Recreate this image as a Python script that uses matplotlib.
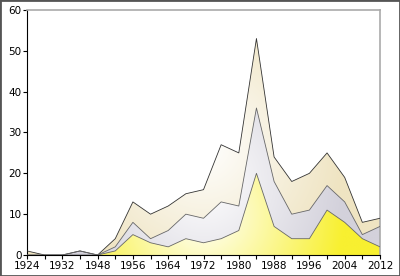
import numpy as np
import matplotlib
matplotlib.use("Agg")
import matplotlib.pyplot as plt
from matplotlib.colors import to_rgb

# Données : médailles par édition
annees = [1924, 1928, 1932, 1936, 1948, 1952, 1956, 1960, 1964, 1968, 1972,
          1976, 1980, 1984, 1988, 1992, 1996, 2000, 2004, 2008, 2012]
gold = [0, 0, 0, 0, 0, 1, 5, 3, 2, 4, 3, 4, 6, 20, 7, 4, 4, 11, 8, 4, 2]
silver = [0, 0, 0, 1, 0, 1, 3, 1, 4, 6, 6, 9, 6, 16, 11, 6, 7, 6, 5, 1, 5]
bronze = [1, 0, 0, 0, 0, 2, 5, 6, 6, 5, 7, 14, 13, 17, 6, 8, 9, 8, 6, 3, 2]

yticks = [0, 10, 20, 30, 40, 50, 60]

x = np.arange(len(annees))
g = np.array(gold)
gs_ = g + np.array(silver)
tot = gs_ + np.array(bronze)

fig = plt.figure(figsize=(4, 2.76), dpi=100)
ax = fig.add_axes([0.0675, 0.076, 0.8825, 0.888])
ax.set_xlim(0, len(annees) - 1)
ax.set_ylim(0, 60)

# pixels par unité (pour un dégradé radial circulaire)
kx = 353 / 20.0
ky = 245 / 60.0


def couche(bas, haut, couleur, lc, rel=0.4):
    poly = ax.fill_between(x, bas, haut, facecolor="none", edgecolor="none")
    path = poly.get_paths()[0]
    ext = path.get_extents()
    x0, y0, x1, y1 = ext.x0, ext.y0, ext.x1, ext.y1
    cx, cy = (x0 + x1) / 2, (y0 + y1) / 2
    R = rel * (x1 - x0) * kx
    nx, ny = 300, 200
    xx, yy = np.meshgrid(np.linspace(x0, x1, nx), np.linspace(y0, y1, ny))
    d = np.sqrt(((xx - cx) * kx) ** 2 + ((yy - cy) * ky) ** 2)
    t = np.clip(d / R, 0, 1)[..., None]
    c = np.array(to_rgb(couleur))
    img = (1 - t) * np.ones(3) + t * c
    im = ax.imshow(img, extent=[x0, x1, y0, y1], aspect="auto",
                   origin="lower", zorder=1, interpolation="bilinear")
    im.set_clip_path(path, transform=ax.transData)
    ax.plot(x, haut, color=lc, lw=0.6, zorder=3)


couche(gs_, tot, "#efe4c2", "#333333")
couche(g, gs_, "#d3d1db", "#666666")
couche(0 * g, g, "#f8f030", "#666666")

ax.set_xlim(0, len(annees) - 1)
ax.set_ylim(0, 60)
ax.set_yticks(yticks)
ax.set_xticks(x)
ax.set_xticklabels([str(a) if i % 2 == 0 else "" for i, a in enumerate(annees)])
ax.tick_params(labelsize=7.5, length=3, width=0.8, pad=1, colors="black")
for s in ["top", "right"]:
    ax.spines[s].set_color("#aaaaaa")
    ax.spines[s].set_linewidth(1.2)
for s in ["left", "bottom"]:
    ax.spines[s].set_color("black")
    ax.spines[s].set_linewidth(0.8)

fig.patches.append(plt.Rectangle((0, 0), 1, 1, transform=fig.transFigure,
                                 fill=False, edgecolor="#555555", lw=2))

fig.savefig("out.png", dpi=100)
